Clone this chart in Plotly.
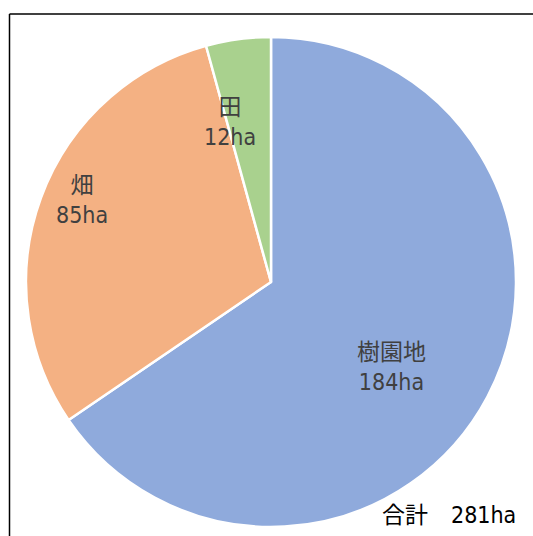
import plotly.graph_objects as go

labels = ["樹園地", "畑", "田"]
values = [184, 85, 12]
colors = ["#8FAADC", "#F4B183", "#A9D18E"]
unit = "ha"
total_label = "合計"
total_value = sum(values)

W, H = 533, 536
cx, cy, r = 271, 282, 245

font_family = "'Liberation Sans Narrow', 'DejaVu Sans Condensed', 'Noto Sans CJK JP', sans-serif"

fig = go.Figure(go.Pie(
    labels=labels,
    values=values,
    sort=False,
    direction="clockwise",
    rotation=0,
    marker=dict(colors=colors, line=dict(color="white", width=2.5)),
    textinfo="none",
    hoverinfo="label+value",
    showlegend=False,
    domain=dict(x=[(cx - r) / W, (cx + r) / W], y=[1 - (cy + r) / H, 1 - (cy - r) / H]),
))

label_pos = [(391, 367), (82, 200), (230, 122)]
annotations = []
for lab, val, (px, py) in zip(labels, values, label_pos):
    annotations.append(dict(
        x=px / W, y=1 - py / H, xref="paper", yref="paper",
        text=f"{lab}<br>{val}{unit}", showarrow=False,
        font=dict(family=font_family, size=23, color="#404040"),
        xanchor="center", yanchor="middle", align="center",
    ))
annotations.append(dict(
    x=518 / W, y=1 - 515 / H, xref="paper", yref="paper",
    text=f"{total_label}　{total_value}{unit}", showarrow=False,
    font=dict(family=font_family, size=23, color="#000000"),
    xanchor="right", yanchor="middle",
))

bx, by = 9.5 / W, 1 - 14 / H
fig.update_layout(
    width=W, height=H,
    margin=dict(l=0, r=0, t=0, b=0),
    paper_bgcolor="white",
    plot_bgcolor="white",
    annotations=annotations,
    shapes=[
        dict(type="line", xref="paper", yref="paper", x0=bx, x1=1.0, y0=by, y1=by,
             line=dict(color="black", width=1.5)),
        dict(type="line", xref="paper", yref="paper", x0=bx, x1=bx, y0=0.0, y1=by,
             line=dict(color="black", width=1.5)),
    ],
)

fig.write_html(
    "out.html",
    config={"displayModeBar": False},
    post_script="document.body.style.margin='0';document.body.style.overflow='hidden';",
)
